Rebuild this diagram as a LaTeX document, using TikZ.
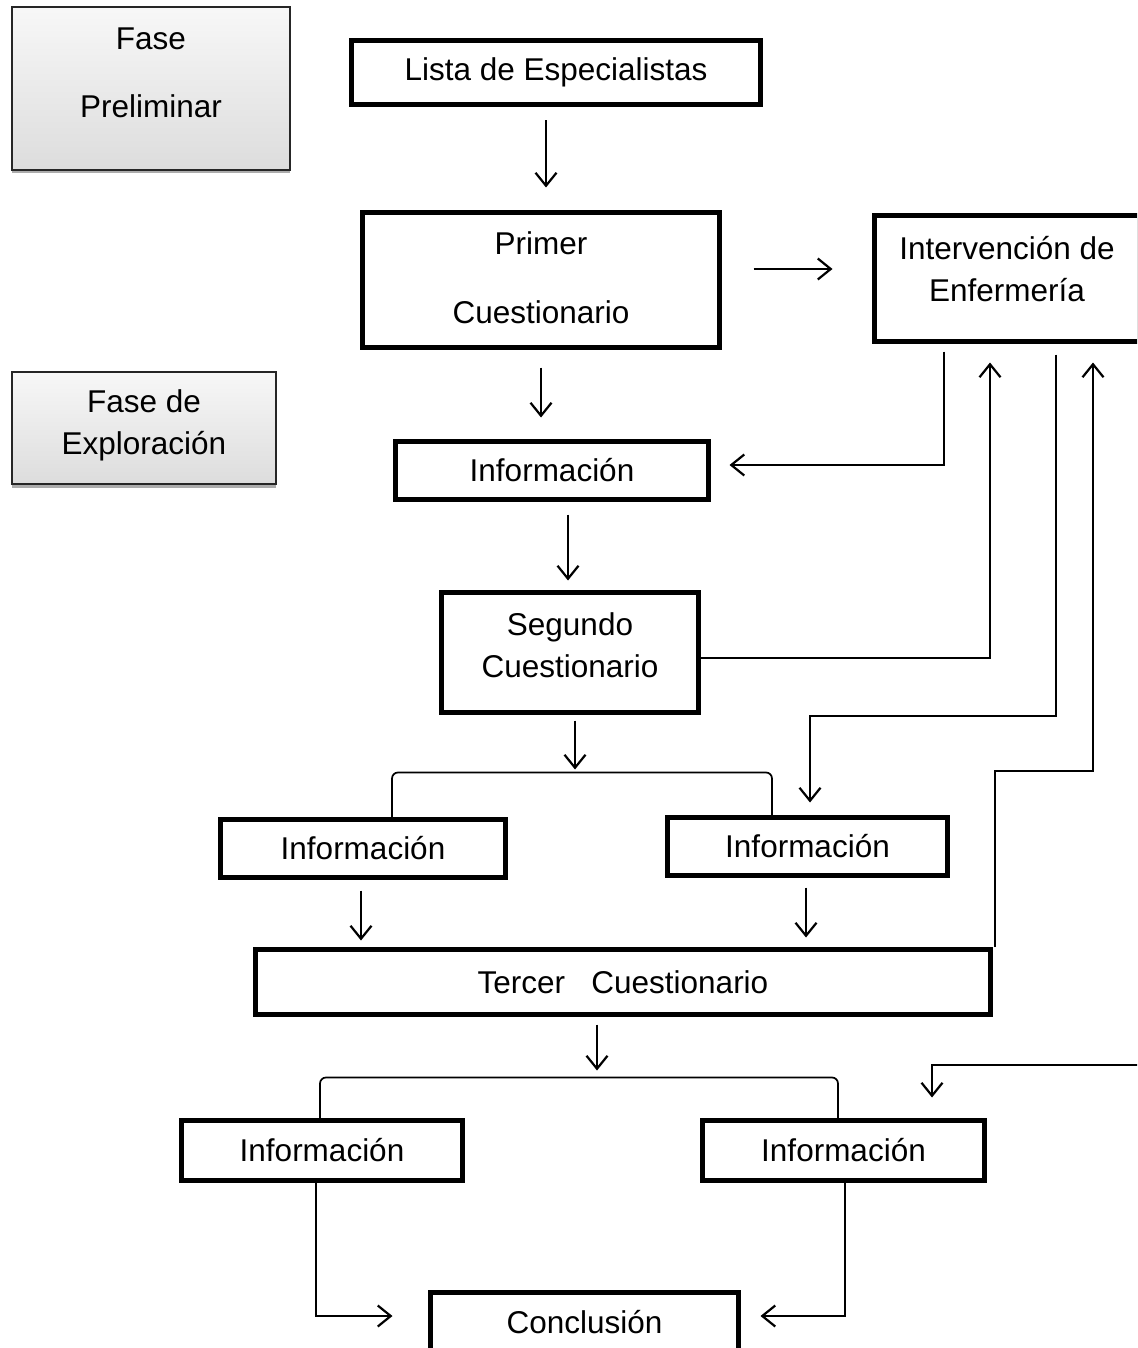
\documentclass[tikz,border=0pt]{standalone}
\usepackage{fontspec}
\setmainfont{Liberation Sans}
\usetikzlibrary{arrows.meta,shadows}
\begin{document}
\begin{tikzpicture}[x=1pt,y=1pt,
  every node/.style={font=\fontsize{31.5}{42}\selectfont},
  box/.style={draw=black,line width=5pt,align=center,inner sep=0pt},
  plain/.style={align=center,inner sep=0pt},
  phase/.style={draw=black!85,line width=1.5pt,align=center,inner sep=0pt,
    top color=gray!6,bottom color=gray!27,
    drop shadow={shadow xshift=0pt,shadow yshift=-3.5pt,fill=gray!65,opacity=1}},
  arr/.style={line width=2pt,-{Straight Barb[length=13pt,width=21pt,line width=2.2pt]}},
  ln/.style={line width=2pt},
  brk/.style={line width=1.7pt,rounded corners=6pt}]
\useasboundingbox (0,0) rectangle (1137,-1348);
\clip (0,0) rectangle (1137,-1348);

% phase boxes
\node[phase,minimum width=278,minimum height=163] (fp) at (151,-88.5) {};
\node[plain] (fpT) at (151,-73) {Fase\\[26pt]Preliminar};
\node[phase,minimum width=264,minimum height=112] (fe) at (144,-428) {};
\node[plain] (feT) at (144,-425) {Fase de\\Exploración};

% main boxes
\node[box,minimum width=409,minimum height=64] (lista) at (556,-72.5) {Lista de Especialistas};
\node[box,minimum width=357,minimum height=135] (primer) at (541,-280) {};
\node[plain] (primerT) at (541,-278) {Primer\\[27pt]Cuestionario};
\node[box,minimum width=265,minimum height=126] (int) at (1007,-278.5) {};
\node[plain] (intT) at (1007,-269) {Intervención de\\Enfermería};
\node[box,minimum width=313,minimum height=58] (info1) at (552,-470.5) {Información};
\node[box,minimum width=257,minimum height=120] (seg) at (570,-652.5) {};
\node[plain] (segT) at (570,-645) {Segundo\\Cuestionario};
\node[box,minimum width=285,minimum height=58] (info2) at (363,-848.5) {Información};
\node[box,minimum width=280,minimum height=58] (info3) at (807.5,-846.5) {Información};
\node[box,minimum width=735,minimum height=65] (tercer) at (623,-982) {Tercer~~~Cuestionario};
\node[box,minimum width=281,minimum height=60] (info4) at (322,-1150.5) {Información};
\node[box,minimum width=282,minimum height=60] (info5) at (843.5,-1150.5) {Información};
\node[box,minimum width=308,minimum height=60] (concl) at (584.5,-1322.5) {Conclusión};

\coordinate (edge) at (1140,-1065);

% connectors
\draw[arr] ([shift={(-10pt,-13.5pt)}]lista.south) -- ([shift={(-10pt,22.5pt)}]lista.south |- primer.north);
\draw[arr] ([shift={(31.5pt,11pt)}]primer.east) -- ([shift={(-39.5pt,9.5pt)}]int.west);
\draw[arr] ([shift={(0pt,-17.5pt)}]primer.south) -- ([shift={(-11pt,21.5pt)}]info1.north);
\draw[arr] ([shift={(-63pt,-7.5pt)}]int.south) |- ([shift={(18.5pt,5.5pt)}]info1.east);
\draw[arr] ([shift={(16pt,-12.5pt)}]info1.south) -- ([shift={(-2pt,9.5pt)}]seg.north);
\draw[arr] ([shift={(0pt,-5.5pt)}]seg.east) -| ([shift={(-17pt,-18.5pt)}]int.south);
\draw[arr] ([shift={(49pt,-10.5pt)}]int.south) -- ++(0,-361) -| ([shift={(2.5pt,12.5pt)}]info3.north);
\draw[arr] ([shift={(2pt,0pt)}]tercer.north east) -- ++(0,176) -| ([shift={(86pt,-18.5pt)}]int.south);
\draw[arr] ([shift={(5pt,-5.5pt)}]seg.south) -- ++(0,-49);
\draw[brk] ([xshift=29pt]info2.north) -- ++(0,44.5) -| ([xshift=-35.5pt]info3.north);
\draw[arr] ([shift={(-2pt,-10.5pt)}]info2.south) -- ([shift={(-262pt,6.5pt)}]tercer.north);
\draw[arr] ([shift={(-1.5pt,-9.5pt)}]info3.south) -- ([shift={(183pt,9.5pt)}]tercer.north);
\draw[arr] ([shift={(-26pt,-7.5pt)}]tercer.south) -- ++(0,-46);
\draw[brk] ([xshift=-2pt]info4.north) -- ++(0,40.5) -| ([xshift=-5.5pt]info5.north);
\draw[arr] (edge) -| ([shift={(88.5pt,20.5pt)}]info5.north);
\draw[arr] ([xshift=-6pt]info4.south) |- ([shift={(-35.5pt,6.5pt)}]concl.west);
\draw[arr] ([xshift=1.5pt]info5.south) |- ([shift={(19.5pt,6.5pt)}]concl.east);
\end{tikzpicture}
\end{document}
